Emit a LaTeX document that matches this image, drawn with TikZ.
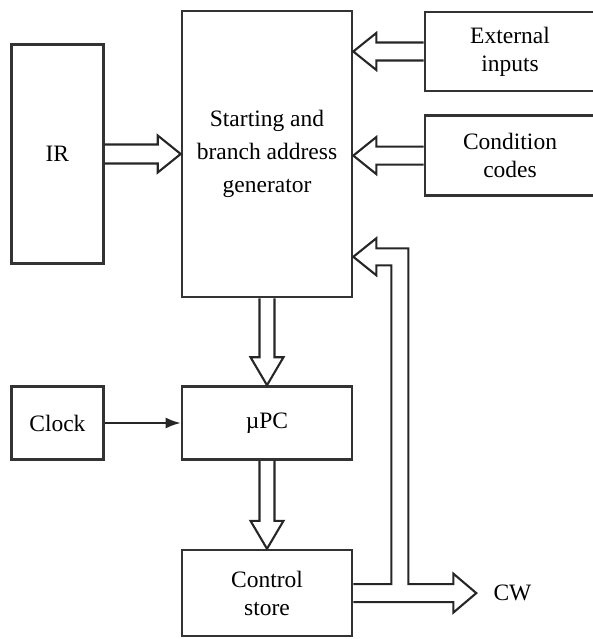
\documentclass[tikz,border=0pt]{standalone}
\usepackage{fontspec}
\setmainfont{Liberation Serif}
\usepackage{tikz}
\usetikzlibrary{arrows.meta,positioning,calc}

\begin{document}
\begin{tikzpicture}[
  x=1pt, y=-1pt,
  font=\fontsize{23.5}{28}\selectfont,
  box/.style={draw=black!80,line width=2.6pt,align=center,inner sep=2pt},
  unit/.style={box,minimum width=170pt},
  bus/.style={draw=black!85,line width=2.1pt,line join=miter},
  clk/.style={-{Latex[length=15pt,width=11pt]},line width=2pt,black!85}
]
\useasboundingbox (0,0) rectangle (592,639);

\node[unit,minimum height=286pt,font=\fontsize{23.5}{33}\selectfont] (gen) at (267,154) {Starting and\\branch address\\generator};
\node[box,minimum width=92pt,minimum height=219pt,left=76pt of gen] (ir) {IR};
\node[unit,minimum height=79pt] (ext) at (510,51.5) {External\\inputs};
\node[unit,minimum height=80pt,below=22pt of ext] (cond) {Condition\\codes};
\node[unit,minimum height=73pt] (upc) at (267,423) {µPC};
\node[box,minimum width=92pt,minimum height=73pt,left=76pt of upc] (clock) {Clock};
\node[unit,minimum height=86pt,below=88pt of upc] (cs) {Control\\store};
\coordinate (fb) at ($(gen.south east)+(0,-41.5)$);
\coordinate (cwtip) at ($(cs.east)+(123,0)$);
\node[inner sep=2pt,right=15pt of cwtip] (cw) {CW};

% wide buses into the generator
\draw[bus] ($(ir.east)+(0,-9.5)$) -- ($(ir.east -| gen.west)+(-23,-9.5)$) -- ++(0,-9) -- (ir.east -| gen.west)
  -- ++(-23,18.5) -- ++(0,-9) -- ($(ir.east)+(0,9.5)$);
\draw[bus] ($(ext.west)+(0,-9)$) -- ($(ext.west -| gen.east)+(23,-9)$) -- ++(0,-9.5) -- (ext.west -| gen.east)
  -- ++(23,18.5) -- ++(0,-9.5) -- ($(ext.west)+(0,9)$);
\draw[bus] ($(cond.west)+(0,-9)$) -- ($(cond.west -| gen.east)+(23,-9)$) -- ++(0,-9.5) -- (cond.west -| gen.east)
  -- ++(23,18.5) -- ++(0,-9.5) -- ($(cond.west)+(0,9)$);

% downward buses
\draw[bus] ($(gen.south)+(-7.5,0)$) -- ($(upc.north)+(-7.5,-28)$) -- ++(-9,0) -- (upc.north)
  -- ++(16.5,-28) -- ++(-9,0) -- ($(gen.south)+(7.5,0)$);
\draw[bus] ($(upc.south)+(-7.5,0)$) -- ($(cs.north)+(-7.5,-28)$) -- ++(-9,0) -- (cs.north)
  -- ++(16.5,-28) -- ++(-9,0) -- ($(upc.south)+(7.5,0)$);

% control word out, with branch back to the generator
\draw[bus] ($(cs.east)+(0,9)$) -- ($(cwtip)+(-23,9)$) -- ++(0,10.5) -- (cwtip) -- ++(-23,-19.5) -- ++(0,10.5)
  -- ($(cs.east)+(55,-9)$) |- ($(fb)+(23,-8.5)$) -- ++(0,-10) -- (fb) -- ++(23,18.5) -- ++(0,-10)
  -| ($(cs.east)+(38,-9)$) -- ($(cs.east)+(0,-9)$);

\draw[clk] (clock) -- (upc);
\end{tikzpicture}
\end{document}
